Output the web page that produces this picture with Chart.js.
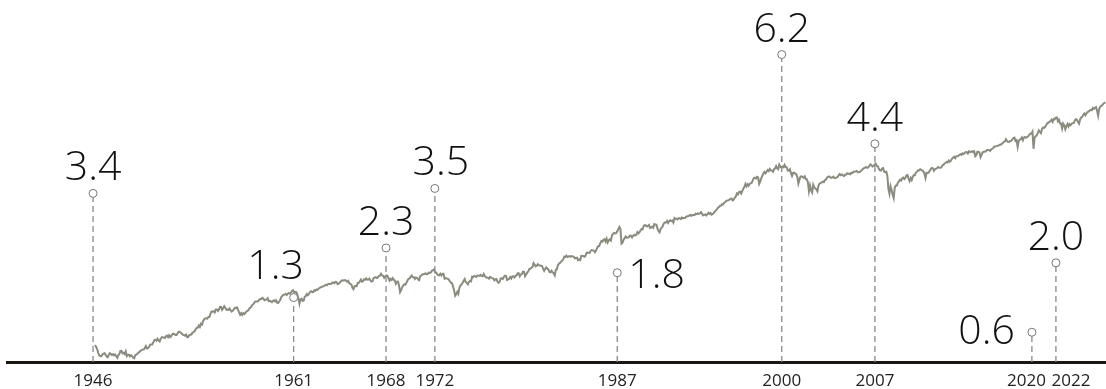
<!DOCTYPE html>
<html>
<head>
<meta charset="utf-8">
<script src="https://cdn.jsdelivr.net/npm/chart.js@4.4.0/dist/chart.umd.min.js"></script>
<style>
  html, body { margin: 0; padding: 0; background: #fff; }
  #chart { display: block; }
</style>
</head>
<body>
<canvas id="chart" width="1106" height="389"></canvas>
<script>
// S&P 500 monthly levels, first value is May 1946
const firstMonth = 1946 + 4 / 12;

const prices1940s = [
  19.25, 18.43, 17.46, 15.96, 14.96, 14.75, 14.69, 15.30,
  15.66, 15.80, 15.17, 14.60, 14.34, 15.21, 15.77, 15.46, 15.06, 15.45, 15.00, 15.30,
  14.69, 14.10, 15.08, 15.48, 16.69, 16.74, 15.75, 15.94, 15.49, 16.54, 14.75, 15.20,
  15.22, 14.62, 15.06, 14.74, 14.16, 13.97, 15.04, 15.22, 15.58, 16.04, 16.28, 16.76
];
const prices1950s = [
  17.05, 17.22, 17.29, 17.96, 18.78, 17.69, 17.84, 18.42, 19.45, 19.53, 19.51, 20.41,
  21.66, 21.80, 21.40, 22.43, 21.52, 20.96, 22.40, 23.28, 23.26, 22.94, 22.88, 23.77,
  24.14, 23.26, 24.37, 23.32, 23.86, 24.96, 25.40, 25.03, 24.54, 24.52, 25.66, 26.57,
  26.38, 25.90, 25.29, 24.62, 24.54, 24.14, 24.75, 23.32, 23.35, 24.54, 24.76, 24.81,
  26.08, 26.15, 26.94, 28.26, 29.19, 29.21, 30.88, 29.83, 32.31, 31.68, 34.24, 35.98,
  36.63, 36.76, 36.58, 37.96, 37.91, 41.03, 43.52, 43.18, 43.67, 42.34, 45.51, 45.48,
  43.82, 45.34, 48.48, 48.38, 45.20, 46.97, 49.39, 47.51, 45.35, 45.58, 45.08, 46.67,
  44.72, 43.26, 44.11, 45.74, 47.43, 47.37, 47.91, 45.22, 42.42, 40.10, 41.72, 39.99,
  41.70, 40.84, 42.10, 43.44, 44.09, 45.24, 47.19, 47.75, 50.06, 51.33, 52.48, 55.21,
  55.42, 55.41, 55.44, 57.59, 58.68, 58.47, 60.51, 59.60, 56.88, 57.52, 58.28, 59.89
];
const prices1960s = [
  55.61, 56.12, 55.34, 54.37, 55.83, 56.92, 55.51, 56.96, 53.52, 53.39, 55.54, 58.11,
  61.78, 63.44, 65.06, 65.31, 66.56, 64.64, 66.76, 68.07, 66.73, 68.62, 71.32, 72.64,
  68.84, 69.96, 69.55, 65.24, 59.63, 52.32, 58.23, 59.12, 56.27, 56.52, 62.26, 63.10,
  66.20, 64.29, 66.57, 69.80, 70.80, 69.37, 69.13, 72.50, 71.70, 74.01, 73.23, 75.02,
  77.04, 77.80, 78.98, 79.46, 80.37, 81.69, 83.18, 81.83, 84.18, 84.86, 84.42, 84.75,
  87.56, 87.43, 86.16, 89.11, 88.42, 84.12, 85.25, 87.17, 89.96, 92.42, 91.61, 92.43,
  92.88, 91.22, 89.23, 91.06, 86.13, 84.74, 83.60, 77.10, 74.50, 80.20, 80.45, 80.33,
  86.61, 86.78, 90.20, 94.01, 89.08, 90.64, 94.75, 93.64, 96.71, 93.90, 94.00, 96.47,
  92.24, 89.36, 90.20, 97.59, 98.68, 99.58, 97.74, 98.86, 102.67, 103.41, 108.37, 103.86,
  103.01, 98.13, 101.51, 103.69, 103.46, 97.71, 91.83, 95.51, 93.12, 97.24, 93.81, 92.06
];
const prices1970s = [
  85.02, 89.50, 89.63, 81.52, 69.29, 72.72, 78.05, 81.52, 84.21, 83.25, 87.20, 92.15,
  95.88, 96.75, 100.31, 103.95, 99.63, 99.70, 95.58, 99.03, 98.34, 94.23, 92.78, 102.09,
  103.94, 106.57, 107.20, 107.67, 109.53, 107.14, 107.39, 111.09, 110.55, 111.58, 116.67, 118.05,
  120.24, 111.68, 111.52, 106.97, 104.95, 104.26, 108.22, 104.25, 108.43, 108.29, 95.96, 97.55,
  96.57, 96.22, 93.98, 90.31, 87.28, 86.00, 79.31, 72.15, 63.54, 66.00, 69.97, 66.50,
  76.98, 81.59, 83.36, 87.30, 91.15, 95.19, 88.75, 86.88, 83.87, 89.04, 91.24, 90.19,
  100.86, 99.71, 102.77, 101.64, 100.18, 104.28, 103.44, 102.91, 105.24, 102.90, 102.10, 107.46,
  102.03, 99.82, 98.42, 98.44, 96.12, 100.48, 98.85, 96.77, 96.53, 92.34, 94.83, 95.10,
  89.25, 87.04, 89.21, 96.83, 97.24, 95.53, 100.68, 103.29, 102.54, 93.15, 94.70, 96.11,
  99.93, 96.28, 101.59, 101.76, 99.08, 102.91, 103.81, 109.32, 109.32, 101.82, 106.16, 107.94
];
const prices1980s = [
  114.16, 113.66, 102.09, 106.29, 111.24, 114.24, 121.67, 122.38, 125.46, 127.47, 140.52, 135.76,
  129.55, 131.27, 136.00, 132.81, 132.59, 131.21, 130.92, 122.79, 116.18, 121.89, 126.35, 122.55,
  120.40, 113.11, 111.96, 116.44, 111.88, 109.61, 104.00, 119.51, 120.42, 133.71, 138.54, 140.64,
  145.30, 148.06, 152.96, 164.42, 162.39, 168.11, 162.56, 164.40, 166.07, 163.55, 166.40, 164.93,
  163.41, 157.06, 159.18, 160.05, 150.55, 153.18, 150.66, 166.68, 166.10, 166.09, 163.58, 167.24,
  179.63, 181.18, 180.66, 179.83, 189.55, 191.85, 190.92, 188.63, 182.08, 189.82, 202.17, 211.28,
  211.78, 226.92, 238.90, 235.52, 247.35, 250.84, 236.12, 252.93, 231.32, 243.98, 249.22, 242.17,
  274.08, 284.20, 291.70, 288.36, 290.10, 304.00, 318.66, 336.77, 321.83, 224.84, 230.30, 247.08,
  257.07, 267.82, 258.89, 261.33, 262.16, 273.50, 272.02, 261.52, 271.91, 278.97, 273.70, 277.72,
  297.47, 288.86, 294.87, 309.64, 320.52, 317.98, 346.08, 351.45, 349.15, 340.36, 345.99, 353.40
];
const prices1990s = [
  329.08, 331.89, 339.94, 330.80, 361.23, 358.02, 356.15, 322.56, 306.05, 295.46, 322.22, 330.22,
  343.93, 367.07, 375.22, 375.35, 389.83, 371.16, 387.81, 395.43, 387.86, 392.45, 375.22, 417.09,
  408.79, 412.70, 403.69, 414.95, 415.35, 408.14, 424.21, 414.03, 417.80, 418.68, 431.35, 435.71,
  438.78, 443.38, 451.67, 440.19, 450.19, 450.53, 448.13, 463.56, 458.93, 467.83, 461.79, 466.45,
  481.61, 467.14, 445.77, 450.91, 456.50, 444.27, 458.26, 475.49, 462.69, 472.35, 453.69, 459.27,
  470.42, 487.39, 500.71, 514.71, 533.40, 544.75, 562.06, 561.88, 584.41, 581.50, 605.37, 615.93,
  636.02, 640.43, 645.50, 654.17, 669.12, 670.63, 639.95, 651.99, 687.31, 705.27, 757.02, 740.74,
  786.16, 790.82, 757.12, 801.34, 848.28, 885.14, 954.29, 899.47, 947.28, 914.62, 955.40, 970.43,
  980.28, 1049.34, 1101.75, 1111.75, 1090.82, 1133.84, 1120.67, 957.28, 1017.01, 1098.67, 1163.63, 1229.23,
  1279.64, 1238.33, 1286.37, 1335.18, 1301.84, 1372.71, 1328.72, 1320.41, 1282.71, 1362.93, 1388.91, 1469.25
];
const prices2000s = [
  1394.46, 1366.42, 1527.46, 1452.43, 1420.60, 1454.60, 1430.83, 1517.68, 1436.51, 1429.40, 1314.95, 1320.28,
  1366.01, 1239.94, 1160.33, 1249.46, 1255.82, 1224.42, 1211.23, 1133.58, 965.80, 1059.78, 1139.45, 1148.08,
  1130.20, 1106.73, 1147.39, 1076.92, 1067.14, 989.82, 797.70, 916.07, 815.28, 776.76, 936.31, 879.82,
  855.70, 841.15, 800.73, 916.92, 963.59, 974.50, 990.31, 1008.01, 995.97, 1050.71, 1058.20, 1111.92,
  1131.13, 1144.94, 1126.21, 1107.30, 1120.68, 1140.84, 1101.72, 1104.24, 1114.58, 1130.20, 1173.82, 1211.92,
  1181.27, 1203.60, 1180.59, 1156.85, 1191.50, 1191.33, 1234.18, 1220.33, 1228.81, 1207.01, 1249.48, 1248.29,
  1280.08, 1280.66, 1294.83, 1310.61, 1270.09, 1270.20, 1276.66, 1303.82, 1335.85, 1377.94, 1400.63, 1418.30,
  1438.24, 1406.82, 1420.86, 1482.37, 1530.62, 1503.35, 1455.27, 1473.99, 1526.75, 1565.15, 1481.14, 1468.36,
  1378.55, 1330.63, 1322.70, 1385.59, 1400.38, 1280.00, 1267.38, 1282.83, 1166.36, 848.92, 752.44, 903.25,
  825.88, 735.09, 676.53, 872.81, 919.14, 919.32, 987.48, 1020.62, 1057.08, 1036.19, 1095.63, 1115.10
];
const prices2010s = [
  1073.87, 1104.49, 1169.43, 1186.69, 1089.41, 1022.58, 1101.60, 1049.33, 1141.20, 1183.26, 1180.55, 1257.64,
  1286.12, 1327.22, 1325.83, 1363.61, 1345.20, 1320.64, 1292.28, 1218.89, 1099.23, 1253.30, 1246.96, 1257.60,
  1312.41, 1365.68, 1408.47, 1397.91, 1310.33, 1362.16, 1379.32, 1406.58, 1440.67, 1412.16, 1416.18, 1426.19,
  1498.11, 1514.68, 1569.19, 1597.57, 1630.74, 1606.28, 1685.73, 1632.97, 1681.55, 1756.54, 1805.81, 1848.36,
  1782.59, 1859.45, 1872.34, 1883.95, 1923.57, 1960.23, 1930.67, 2003.37, 1972.29, 2018.05, 2067.56, 2058.90,
  1994.99, 2104.50, 2067.89, 2085.51, 2107.39, 2063.11, 2103.84, 1867.61, 1920.03, 2079.36, 2080.41, 2043.94,
  1829.08, 1932.23, 2059.74, 2065.30, 2096.95, 2098.86, 2173.60, 2170.95, 2168.27, 2126.15, 2198.81, 2238.83,
  2278.87, 2363.64, 2362.72, 2384.20, 2411.80, 2423.41, 2470.30, 2471.65, 2519.36, 2575.26, 2647.58, 2673.61,
  2823.81, 2713.83, 2640.87, 2648.05, 2705.27, 2718.37, 2816.29, 2901.52, 2930.75, 2711.74, 2760.17, 2351.10,
  2704.10, 2784.49, 2834.40, 2945.83, 2752.06, 2941.76, 2980.38, 2926.46, 2976.74, 3037.56, 3140.98, 3230.78
];
const prices2020s = [
  3225.52, 3386.15, 2237.40, 2912.43, 3044.31, 3100.29, 3271.12, 3500.31, 3363.00, 3269.96, 3621.63, 3756.07,
  3714.24, 3811.15, 3972.89, 4181.17, 4204.11, 4297.50, 4395.26, 4522.68, 4307.54, 4605.38, 4567.00, 4766.18,
  4796.56, 4373.94, 4530.41, 4131.93, 4132.15, 3666.77, 4130.29, 3955.00, 3585.62, 3871.98, 4080.11, 3839.50,
  4076.60, 3970.15, 4109.31, 4169.48, 4179.83, 4450.38, 4588.96, 4507.66, 4288.05, 4117.37, 4567.80, 4769.83,
  4845.65, 5096.27, 5254.35, 5035.69, 5277.51, 5460.48, 5522.30, 5648.40, 5762.48, 5705.45, 6032.38, 5881.63,
  6040.53, 6144.15, 5611.85, 4982.77, 5911.69, 6204.95, 6339.39, 6460.26, 6688.46, 6840.20, 6850.00
];

const prices = [].concat(prices1940s, prices1950s, prices1960s, prices1970s,
  prices1980s, prices1990s, prices2000s, prices2010s, prices2020s);

// market peaks and the years it took to get back above them
const peakYears = ['1946', '1961', '1968', '1972', '1987', '2000', '2007', '2020', '2022'];
const peakDates = [1946.22, 1962.0, 1969.27, 1973.11, 1987.46, 2000.40, 2007.73, 2020.08, 2021.97];
const recoveryYears = [3.4, 1.3, 2.3, 3.5, 1.8, 6.2, 4.4, 0.6, 2.0];

// where a value label sits relative to its marker (default: centred above)
const labelSpots = {
  1: { dx: -18, dy: -19 },
  3: { dx: 6 },
  4: { dx: 11, dy: 15, align: 'left' },
  7: { dx: -17, dy: 12, align: 'right' }
};
// the 2020 / 2022 year labels are pulled apart so they don't collide (in years)
const tickNudge = { 7: -0.43, 8: 1.18 };

const pricePoints = prices.map((p, i) => ({ x: firstMonth + (i + 0.5) / 12, y: p }));

const stemPoints = [];
peakDates.forEach((d, i) => {
  stemPoints.push({ x: d, y: 0 }, { x: d, y: recoveryYears[i] }, { x: d, y: null });
});

const valueLabels = {
  id: 'valueLabels',
  afterDatasetsDraw(chart) {
    const meta = chart.getDatasetMeta(0);
    const ctx = chart.ctx;
    ctx.save();
    ctx.font = '300 41px "Open Sans"';
    ctx.fillStyle = '#111';
    ctx.textBaseline = 'alphabetic';
    recoveryYears.forEach((v, i) => {
      const pt = meta.data[i * 3 + 1];
      const spot = labelSpots[i] || {};
      ctx.textAlign = spot.align || 'center';
      ctx.fillText(v.toFixed(1), pt.x + (spot.dx || 0), pt.y + (spot.dy !== undefined ? spot.dy : -13));
    });
    ctx.restore();
  }
};

new Chart(document.getElementById('chart'), {
  type: 'line',
  data: {
    datasets: [
      {
        data: stemPoints,
        yAxisID: 'y2',
        borderColor: '#8a8a8a',
        borderWidth: 1.3,
        borderDash: [6, 4],
        spanGaps: false,
        pointRadius: ctx => (ctx.raw && ctx.raw.y > 0 ? 4 : 0),
        pointBackgroundColor: '#fff',
        pointBorderColor: '#777',
        pointBorderWidth: 1,
        clip: false
      },
      {
        data: pricePoints,
        yAxisID: 'y',
        borderColor: '#8b8b80',
        borderWidth: 2,
        pointRadius: 0,
        tension: 0
      }
    ]
  },
  options: {
    responsive: false,
    animation: false,
    events: [],
    devicePixelRatio: 1,
    layout: { padding: { left: 7, right: 0, top: 0, bottom: 0 } },
    plugins: { legend: { display: false }, tooltip: { enabled: false } },
    scales: {
      x: {
        type: 'linear',
        min: 1939.45,
        max: 2025.91,
        grid: { display: false, drawTicks: false },
        border: { display: true, color: '#1c1610', width: 3 },
        afterBuildTicks: scale => {
          scale.ticks = peakDates.map((v, i) => ({ value: v + (tickNudge[i] || 0) }));
        },
        afterFit: scale => { scale.height = 27; },
        ticks: {
          autoSkip: false,
          maxRotation: 0,
          padding: 9,
          color: '#222',
          font: { family: 'Open Sans', size: 17 },
          callback: (v, i) => peakYears[i]
        }
      },
      y: { type: 'logarithmic', min: 12.76, max: 82400, display: false },
      y2: { type: 'linear', min: 0, max: 7.3, display: false }
    }
  },
  plugins: [valueLabels]
});
</script>
</body>
</html>
